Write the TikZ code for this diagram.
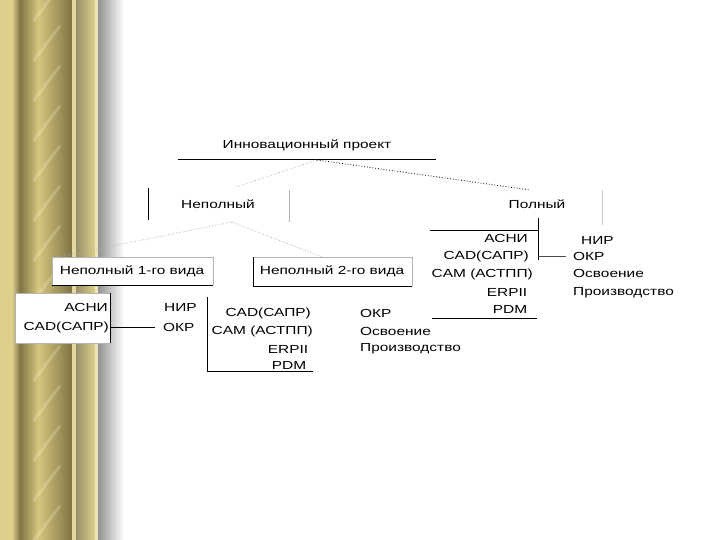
\documentclass[tikz,border=0pt]{standalone}
\usepackage{fontspec}
\setmainfont{Liberation Sans}[FakeStretch=1.32]
\usetikzlibrary{positioning,calc}
\definecolor{paleGold}{HTML}{DDD08A}
\definecolor{darkGold}{HTML}{7E7444}
\definecolor{midGold}{HTML}{D6C67E}
\definecolor{lineGray}{HTML}{B4B4B4}

\begin{document}
\begin{tikzpicture}[x=1pt,y=-1pt,
    lbl/.style={font=\fontsize{11.7}{12}\selectfont,inner sep=0pt},
    dark/.style={draw=black,line width=0.8pt},
    pale/.style={draw=lineGray,line width=0.8pt},
    dots/.style={dotted,line width=0.8pt}]

\useasboundingbox (0,0) rectangle (720,540);
\fill[white] (0,0) rectangle (720,540);

% left border
\fill[paleGold] (0,0) rectangle (12,540);
\shade[left color=paleGold,right color=darkGold] (12,0) rectangle (20,540);
\shade[left color=darkGold,right color=midGold] (20,0) rectangle (38,540);
\shade[left color=midGold,right color=darkGold] (38,0) rectangle (72,540);
\fill[paleGold!80!white] (72,0) rectangle (76,540);
\shade[left color=darkGold!80,right color=paleGold] (76,0) rectangle (95,540);
\fill[paleGold!60!white] (95,0) rectangle (98,540);
\shade[left color=gray!85,right color=white] (98,0) rectangle (124,540);
\foreach \y in {20,60,...,540}
  \draw[white!90!yellow,opacity=0.22,line width=3pt,line cap=round] (34,\y) -- (60,\y-34);

% frames
\fill[white] (15,293) rectangle (110,343);
\draw[pale] (110,343) -- (15,343) -- (15,293) -- (110,293);
\draw[dark] (110,293) -- (110,343);
\fill[white] (52,257) rectangle (213,285);
\draw[pale] (52,285) -- (52,257) -- (213,257) -- (213,285);
\draw[dark] (52,285) -- (213,285);
\draw[pale] (253,257) -- (412,257) -- (412,286);
\draw[dark] (253,257) -- (253,286) -- (412,286);

% texts
\node[lbl] (proj) at (307,145) {Инновационный проект};
\node[lbl] (nepoln) at (218,204) {Неполный};
\node[lbl] (poln) at (537,204) {Полный};
\node[lbl] (vid1) at (132,271) {Неполный 1-го вида};
\node[lbl] (vid2) at (332,271) {Неполный 2-го вида};

% incomplete, 1st kind
\node[lbl,anchor=east] (asni1) at (108,307) {АСНИ};
\node[lbl,anchor=east] (cad1) at (109,327) {CAD(САПР)};
\node[lbl,anchor=west] (nir1) at (164,307) {НИР};
\node[lbl,anchor=west] (okr1) at (163,327) {ОКР};
\coordinate (cad1r) at (110,327);
\draw[dark] (cad1r) -- (okr1.west -| 155,0);

% incomplete, 2nd kind
\node[lbl,anchor=east] (cad2) at (311,313) {CAD(САПР)};
\node[lbl,anchor=east] (cam2) at (313,331) {CAM (АСТПП)};
\node[lbl] (erp2) at (288,349) {ERPII};
\node[lbl] (pdm2) at (289,365) {PDM};
\node[lbl,anchor=west] (okr2) at (360,313) {ОКР};
\node[lbl,anchor=west] (osv2) at (360,331) {Освоение};
\node[lbl,anchor=west] (proizv2) at (360,349) {Производство};
\draw[dark] (207,297) -- (207,371) -- (313,371);

% complete
\node[lbl,anchor=east] (asni3) at (528,238) {АСНИ};
\node[lbl,anchor=east] (cad3) at (529,256) {CAD(САПР)};
\node[lbl,anchor=east] (cam3) at (533,274) {CAM (АСТПП)};
\node[lbl] (erp3) at (507,292) {ERPII};
\node[lbl] (pdm3) at (510,309) {PDM};
\node[lbl,anchor=west] (nir3) at (581,240) {НИР};
\node[lbl,anchor=west] (okr3) at (573,256) {ОКР};
\node[lbl,anchor=west] (osv3) at (573,273) {Освоение};
\node[lbl,anchor=west] (proizv3) at (573,293) {Производство};
\draw[dark] (430,230) -- (538,230);
\draw[dark] (538,218) -- (538,260);
\draw[dark] (432,318) -- (537,318);
\coordinate (cad3r) at (538,256);
\draw[draw=black!70,line width=0.8pt] (cad3r) -- (okr3.west -| 566,0);

% tree
\draw[dark] (178,159) -- (436,159);
\coordinate (projb) at (317,160);
\draw[dots,lineGray] (projb) -- (236,187);
\draw[dots,black] (projb) -- (530,190);
\draw[dark] (148,188) -- (148,220);
\draw[pale] (289,190) -- (289,222);
\draw[draw=lineGray!70,line width=0.8pt] (602,190) -- (602,225);
\coordinate (nepolnb) at (232,222);
\draw[dots,lineGray] (nepolnb) -- (57,257);
\draw[dots,lineGray] (nepolnb) -- (322,257);

\end{tikzpicture}
\end{document}
